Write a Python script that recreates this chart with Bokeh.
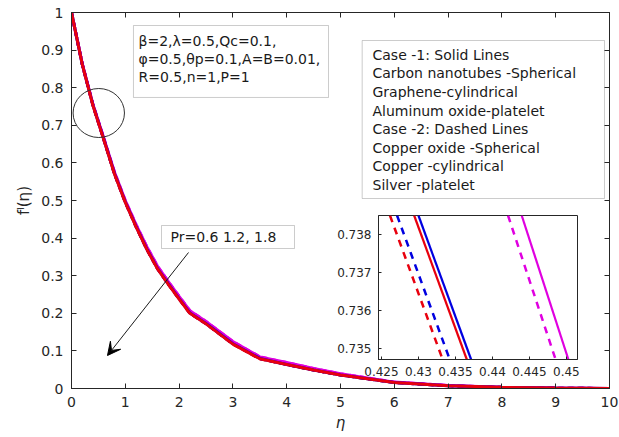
from bokeh.plotting import figure
from bokeh.models import (BoxAnnotation, Arrow, VeeHead, FixedTicker,
                          NumeralTickFormatter, LinearAxis, Range1d,
                          CustomJSTickFormatter)
from bokeh.core.properties import value
from bokeh.layouts import column
from bokeh.embed import file_html
from bokeh.resources import INLINE

# ---------------- data ----------------
eta = [0, 0.2, 0.4, 0.6, 0.8, 1.0, 1.2, 1.4, 1.6, 1.8, 2.0, 2.2, 2.5, 3.0,
       3.5, 4.0, 4.5, 5.0, 5.5, 6.0, 7.0, 8.0, 9.0, 10.0]
f_red = [1.0, 0.862, 0.752, 0.662, 0.570, 0.495, 0.430, 0.370, 0.318, 0.277,
         0.238, 0.200, 0.172, 0.118, 0.079, 0.064, 0.049, 0.036, 0.026, 0.016,
         0.007, 0.003, 0.001, 0.0]
f_blue = [1.0, 0.862, 0.753, 0.663, 0.571, 0.496, 0.431, 0.371, 0.319, 0.278,
          0.239, 0.201, 0.173, 0.119, 0.080, 0.064, 0.049, 0.036, 0.026, 0.016,
          0.007, 0.003, 0.001, 0.0]
f_mag = [1.0, 0.864, 0.755, 0.666, 0.575, 0.500, 0.436, 0.377, 0.325, 0.284,
         0.245, 0.207, 0.178, 0.125, 0.084, 0.069, 0.053, 0.039, 0.028, 0.017,
         0.008, 0.003, 0.001, 0.0]

x_ticks = [0, 1, 2, 3, 4, 5, 6, 7, 8, 9, 10]
y_ticks = [0, 0.1, 0.2, 0.3, 0.4, 0.5, 0.6, 0.7, 0.8, 0.9, 1.0]

# inset (zoom near eta ~ 0.43)
inset_f = [0.7385, 0.7347]
inset_red_solid = [0.42942, 0.43654]
inset_blue_solid = [0.43000, 0.43712]
inset_mag_solid = [0.44396, 0.45027]
inset_red_dashed = [0.42615, 0.43327]
inset_blue_dashed = [0.42711, 0.43423]
inset_mag_dashed = [0.44211, 0.44854]
inset_x_ticks = [0.425, 0.43, 0.435, 0.44, 0.445, 0.45]
inset_y_ticks = [0.735, 0.736, 0.737, 0.738]

params_lines = ["β=2,λ=0.5,Qc=0.1,", "φ=0.5,θp=0.1,A=B=0.01,", "R=0.5,n=1,P=1"]
legend_lines = ["Case -1: Solid Lines", "Carbon nanotubes -Spherical",
                "Graphene-cylindrical", "Aluminum oxide-platelet",
                "Case -2: Dashed Lines", "Copper oxide -Spherical",
                "Copper -cylindrical", "Silver -platelet"]
pr_text = "Pr=0.6 1.2, 1.8"

# ---------------- styling ----------------
FONT = "DejaVu Sans"
AX = "#262626"
TXT = "#1a1a1a"
RED = "#e8000e"
BLUE = "#0000e0"
MAG = "#e000e0"

p = figure(width=619, height=437, x_range=Range1d(0, 10), y_range=Range1d(0, 1),
           output_backend="svg", toolbar_location=None,
           min_border_left=71, min_border_right=10, min_border_top=12,
           min_border_bottom=49, x_axis_label="η", y_axis_label="fˡ(η)")
p.grid.visible = False
p.outline_line_color = AX
p.outline_line_width = 1
p.background_fill_color = "white"
p.border_fill_color = "white"

p.xaxis.ticker = FixedTicker(ticks=x_ticks)
p.xaxis.formatter = NumeralTickFormatter(format="0")
p.yaxis.ticker = FixedTicker(ticks=y_ticks)
p.yaxis.formatter = NumeralTickFormatter(format="0.[0]")
for ax in p.axis:
    ax.major_tick_in = 5
    ax.major_tick_out = 0
    ax.minor_tick_line_color = None
    ax.axis_line_color = AX
    ax.major_tick_line_color = AX
    ax.major_label_text_color = AX
    ax.major_label_text_font = FONT
    ax.major_label_text_font_size = "14px"
    ax.major_label_standoff = 8
    ax.axis_label_text_font = FONT
    ax.axis_label_text_color = AX
    ax.axis_label_text_font_size = "15px"
p.xaxis.axis_label_text_font_style = "italic"
p.xaxis.axis_label_standoff = 4
p.yaxis.axis_label_text_font_style = "normal"
p.yaxis.axis_label_standoff = 5

# box-style axes on top and right: ticks only, no labels
for loc, tk in (("right", y_ticks), ("above", x_ticks)):
    a = LinearAxis(ticker=FixedTicker(ticks=tk),
                   formatter=CustomJSTickFormatter(code="return ''"),
                   major_label_text_font_size="10px",
                   major_tick_in=5, major_tick_out=0, minor_tick_line_color=None,
                   axis_line_color=AX, major_tick_line_color=AX, major_label_standoff=0)
    p.add_layout(a, loc)

# curves: dashed (case 2) under solid (case 1)
for ys, c in ((f_mag, MAG), (f_blue, BLUE), (f_red, RED)):
    p.line(eta, ys, line_color=c, line_width=3, line_dash="6 4")
for ys, c in ((f_mag, MAG), (f_blue, BLUE), (f_red, RED)):
    p.line(eta, ys, line_color=c, line_width=3)

# zoom marker circle
p.ellipse(x=[0.507], y=[0.7327], width=0.955, height=0.1303,
          fill_alpha=0, line_color="#333333", line_width=1)

BOX_LINE = "#555555"
# parameter box
p.add_layout(BoxAnnotation(left=1.152, right=4.777, bottom=0.774, top=0.9654,
                           fill_color="white", fill_alpha=1,
                           line_color=BOX_LINE, line_width=1, level="underlay"))
t1 = p.text(x=[1.245] * 3, y=[0.9255 - i * 0.0485 for i in range(3)], text=params_lines,
            text_font=value(FONT), text_font_size="14px", text_color=TXT,
            text_baseline="middle", text_align="left")
t1.level = "overlay"

# legend-like text box
p.add_layout(BoxAnnotation(left=5.403, right=9.907, bottom=0.5053, top=0.9255,
                           fill_color="white", fill_alpha=1,
                           line_color=BOX_LINE, line_width=1, level="underlay"))
t2 = p.text(x=[5.595] * 8, y=[0.8875 - i * 0.0494 for i in range(8)], text=legend_lines,
            text_font=value(FONT), text_font_size="14px", text_color=TXT,
            text_baseline="middle", text_align="left")
t2.level = "overlay"

# Pr box and arrow
p.add_layout(BoxAnnotation(left=1.673, right=4.145, bottom=0.3723, top=0.4335,
                           fill_color="white", fill_alpha=1,
                           line_color=BOX_LINE, line_width=1, level="underlay"))
t3 = p.text(x=[1.84], y=[0.4016], text=[pr_text], text_font=value(FONT),
            text_font_size="14px", text_color=TXT, text_baseline="middle",
            text_align="left")
t3.level = "overlay"
p.add_layout(Arrow(end=VeeHead(size=13, fill_color="black", line_color="black"),
                   x_start=2.175, y_start=0.3617, x_end=0.669, y_end=0.0878,
                   line_color="#1a1a1a", line_width=1))

# ---------------- inset ----------------
inset = figure(width=280, height=170, x_range=Range1d(0.4246, 0.4515),
               y_range=Range1d(0.7347, 0.7385), output_backend="svg",
               toolbar_location=None, min_border_left=45, min_border_right=2,
               min_border_top=2, min_border_bottom=24,
               styles={"position": "absolute", "left": "307px", "top": "213px"})
inset.grid.visible = False
inset.border_fill_alpha = 0
inset.background_fill_color = "white"
inset.outline_line_color = AX
inset.xaxis.ticker = FixedTicker(ticks=inset_x_ticks)
inset.xaxis.formatter = NumeralTickFormatter(format="0.[000]")
inset.yaxis.ticker = FixedTicker(ticks=inset_y_ticks)
inset.yaxis.formatter = NumeralTickFormatter(format="0.000")
for ax in inset.axis:
    ax.major_tick_in = 3
    ax.major_tick_out = 0
    ax.minor_tick_line_color = None
    ax.axis_line_color = AX
    ax.major_tick_line_color = AX
    ax.major_label_text_color = AX
    ax.major_label_text_font = FONT
    ax.major_label_text_font_size = "12px"
    ax.major_label_standoff = 7

for xs, c in ((inset_red_dashed, RED), (inset_blue_dashed, BLUE), (inset_mag_dashed, MAG)):
    inset.line(xs, inset_f, line_color=c, line_width=2.5, line_dash="7 6")
for xs, c in ((inset_red_solid, RED), (inset_blue_solid, BLUE), (inset_mag_solid, MAG)):
    inset.line(xs, inset_f, line_color=c, line_width=2.2)

layout = column(p, inset)
open("out.html", "w").write(file_html(layout, INLINE))
